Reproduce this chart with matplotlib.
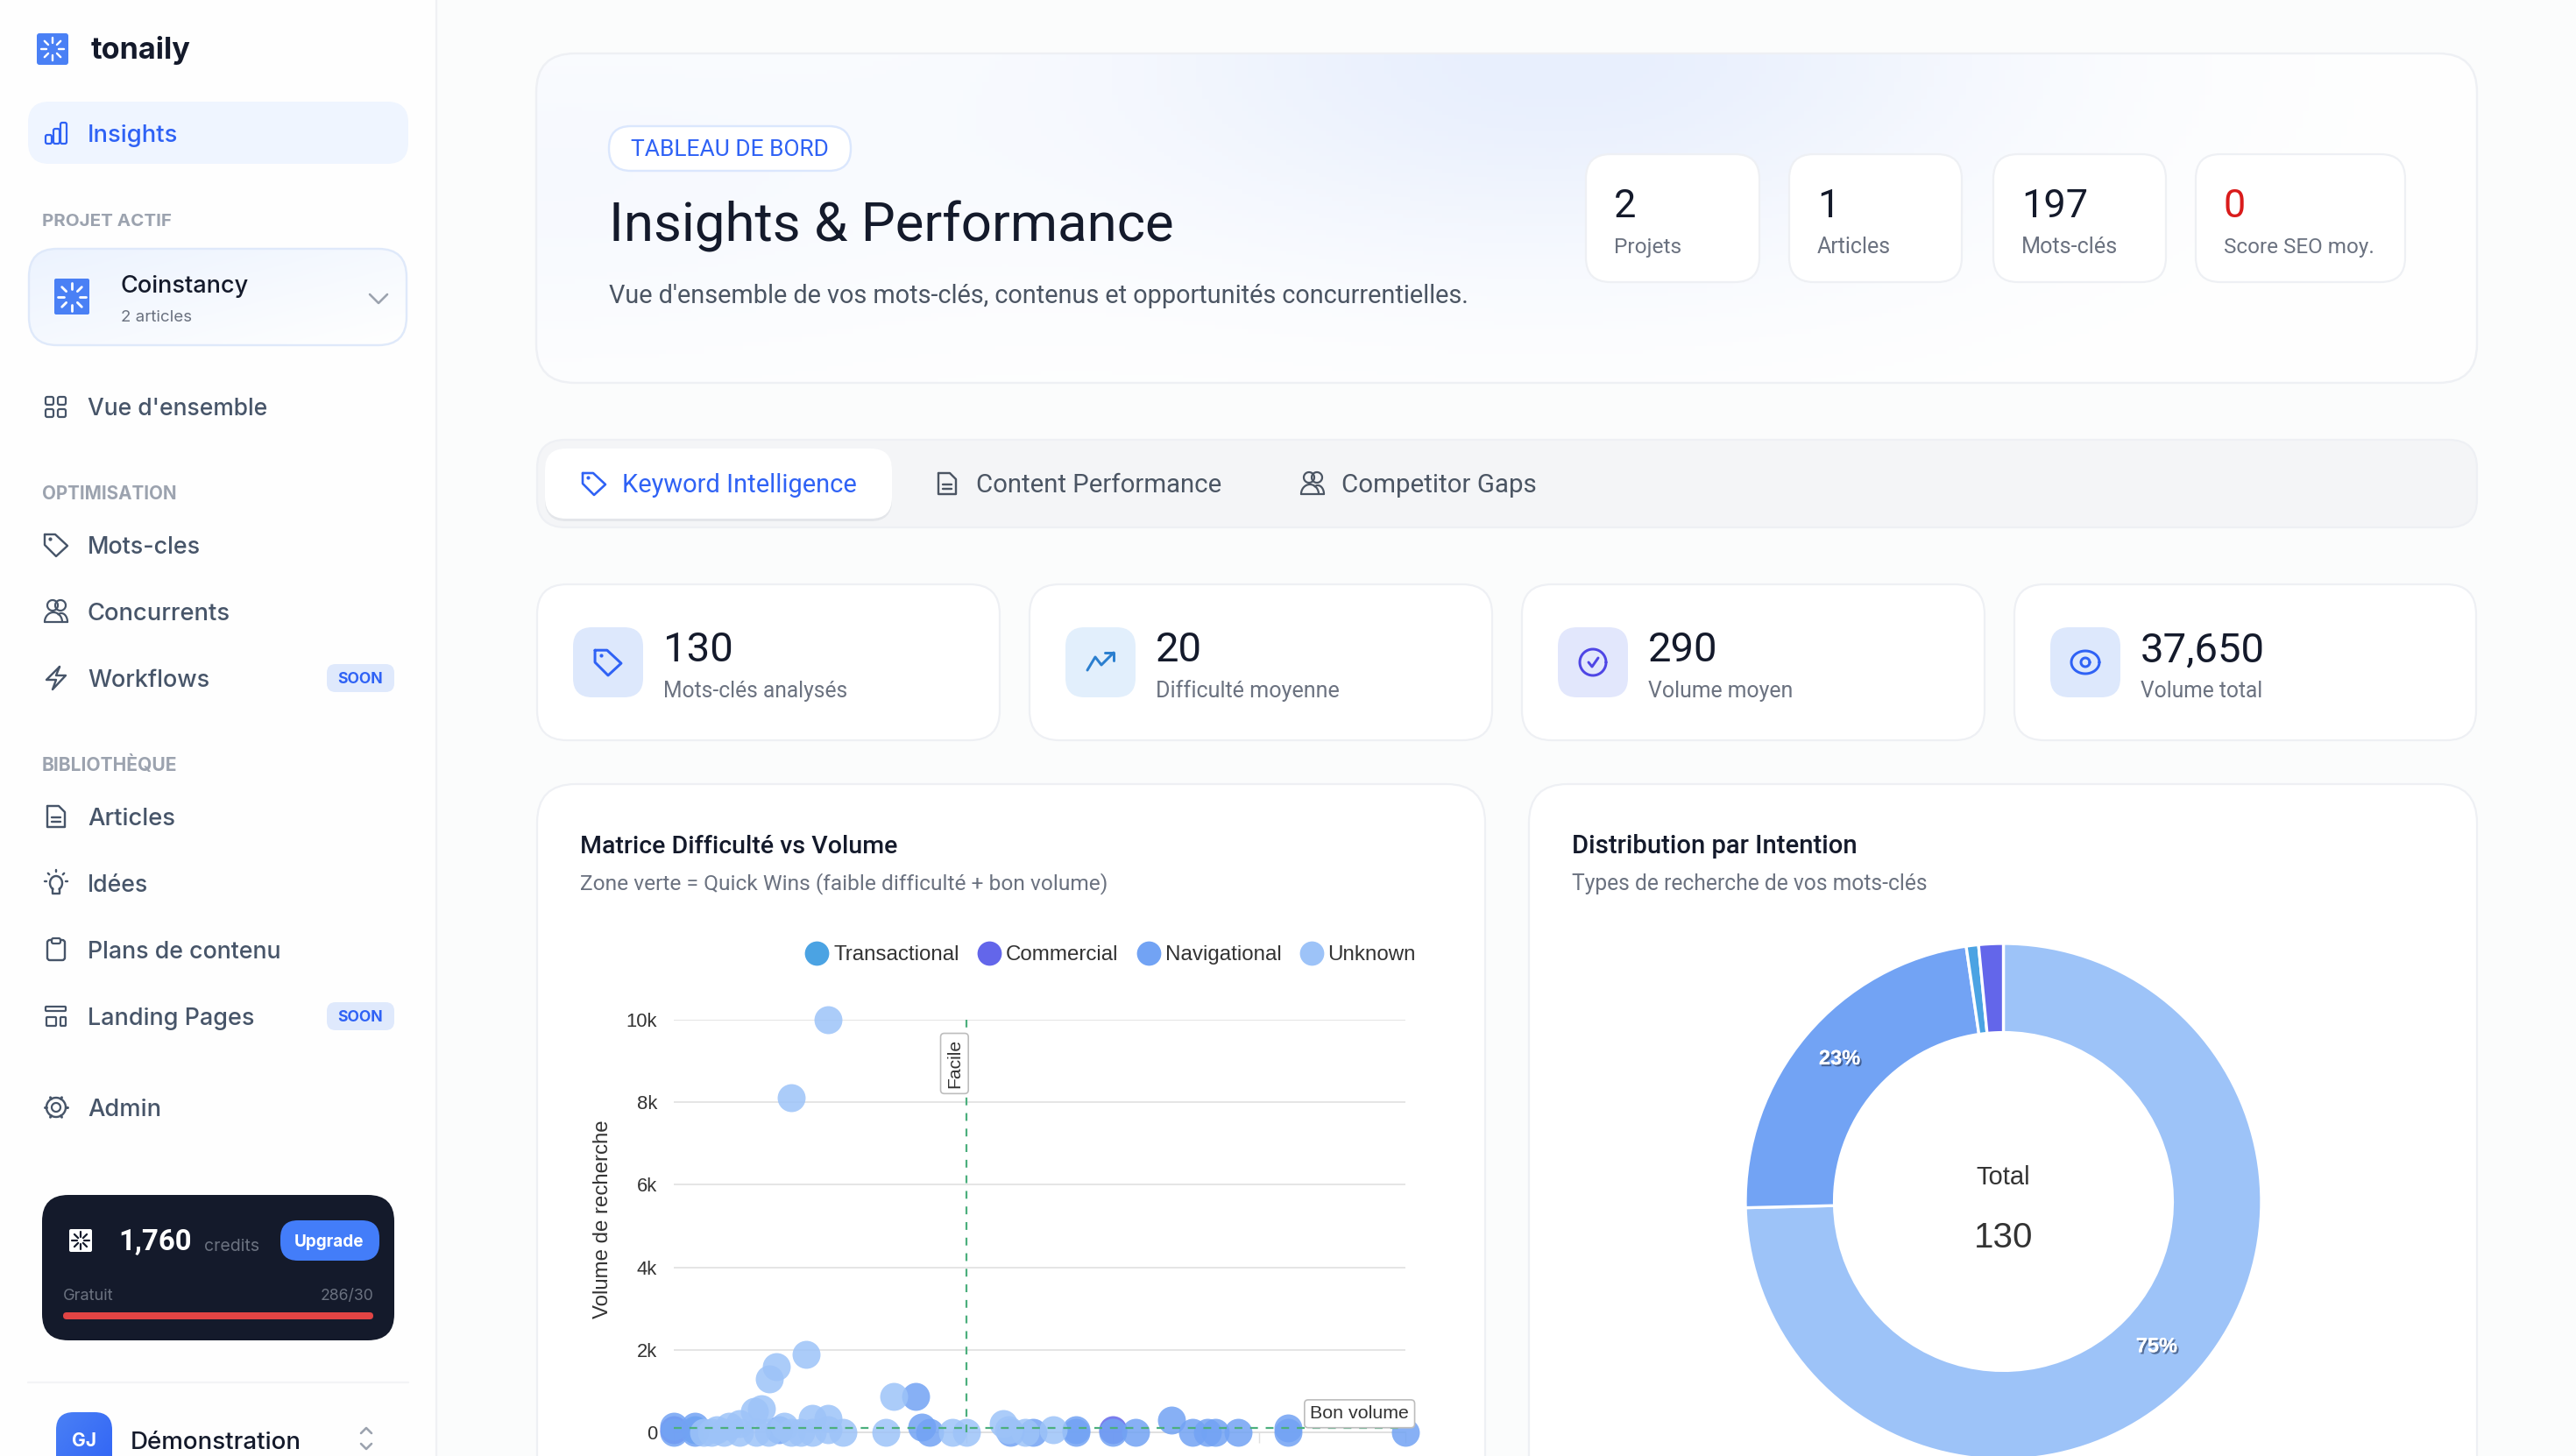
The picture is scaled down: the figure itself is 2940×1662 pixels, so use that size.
import numpy as np
import matplotlib
matplotlib.use("Agg")
import matplotlib.pyplot as plt
import matplotlib.patheffects as pe
from matplotlib.colors import to_rgb
from matplotlib.lines import Line2D
from matplotlib.patches import FancyBboxPatch

W, H = 2940, 1662

# chart data
unknown_diff = [15.8, 12, 13.5, 10.5, 9.75, 8.9, 8.25, 6.7, 5.6, 4.4, 3, 3.8, 5.1, 6.7, 8.4, 9.7, 11.3, 12, 13, 14.15, 14.15, 15.8, 15.8, 17.3, 21.7, 22.5, 28.5, 30, 33.75, 34.3, 36, 38.9]
unknown_vol = [10000, 8100, 1900, 1600, 1300, 570, 500, 220, 140, 60, 0, 0, 0, 0, 0, 0, 140, 0, 0, 350, 0, 350, 60, 0, 0, 860, 0, 0, 220, 60, 0, 60]
nav_diff = [0, 0, 2.1, 2.1, 10.7, 24.75, 25.4, 26.2, 34.5, 36.8, 41.2, 41.2, 45, 47.3, 51, 53.2, 54.7, 55.5, 57.8, 63, 63, 75]
nav_vol = [140, 0, 140, 0, 60, 860, 120, 0, 0, 0, 60, 0, 0, 0, 300, 0, 0, 0, 0, 100, 0, 0]
comm_diff = [45, 0]
comm_vol = [60, 60]
trans_diff = [2.1]
trans_vol = [60]

intent_labels = ["Unknown", "Navigational", "Transactional", "Commercial"]
intent_counts = [97, 30, 1, 2]
y_ticks = [0, 2000, 4000, 6000, 8000, 10000]
y_tick_labels = ["0", "2k", "4k", "6k", "8k", "10k"]
x_ticks = [0, 15, 30, 45, 60, 75]

# sidebar / cards text
nav_items = [("Vue d'ensemble", 474, 205), ("Mots-cles", 632, 129), ("Concurrents", 708, 163), ("Workflows", 784, 139),
             ("Articles", 942, 100), ("Idées", 1018, 69), ("Plans de contenu", 1094, 221), ("Landing Pages", 1170, 190), ("Admin", 1274, 84)]
section_items = [("PROJET ACTIF", 258, 148), ("OPTIMISATION", 570, 154), ("BIBLIOTHÈQUE", 880, 155)]
mini_stats = [("2", "Projets", 1810, 2008, 77), ("1", "Articles", 2042, 2239, 84), ("197", "Mots-clés", 2275, 2472, 110), ("0", "Score SEO moy.", 2506, 2745, 172)]
big_stats = [("130", "Mots-clés analysés", 613, 1141, 210), ("20", "Difficulté moyenne", 1175, 1703, 209),
             ("290", "Volume moyen", 1737, 2265, 165), ("37,650", "Volume total", 2299, 2826, 139)]
big_icon_bg = ["#DDE8FC", "#E2EFFC", "#E2E7FC", "#DDE8FC"]

C_UNK, C_NAV, C_TRANS, C_COMM = "#9DC3F8", "#72A3F4", "#4BA3E3", "#6366EA"
BLUE = "#2F62F5"
DARK = "#141A2B"
SLATE = "#475569"
GREY = "#6B7280"
BORDER = "#EEF0F4"
GREEN = "#4CAF7D"
CHART_TXT = "#333333"

plt.rcParams["font.family"] = ["Inter", "DejaVu Sans"]
MAIN_FONT = ["Roboto", "DejaVu Sans"]
CHART_FONT = ["Liberation Sans", "DejaVu Sans"]

fig = plt.figure(figsize=(W / 100, H / 100), dpi=100, facecolor="#FBFCFC")
ui = fig.add_axes([0, 0, 1, 1], zorder=0)
ui.set_xlim(0, W)
ui.set_ylim(H, 0)
ui.axis("off")
renderer = fig.canvas.get_renderer()


def txt(x, y, s, width=None, color=DARK, weight="normal", ha="left", size=20, **kw):
    t = ui.text(x, y, s, color=color, weight=weight, ha=ha, va="baseline", fontsize=size, **kw)
    if width:
        t.set_fontsize(size * width / t.get_window_extent(renderer).width)
    return t


def box(x0, y0, x1, y1, r, fc="white", ec="none", lw=0, z=1):
    p = FancyBboxPatch((x0, y0), x1 - x0, y1 - y0, boxstyle=f"round,pad=0,rounding_size={r}",
                       fc=fc, ec=ec, lw=lw * 0.72, zorder=z)
    ui.add_patch(p)
    return p


def grad(x0, y0, x1, y1, r, c0, c1, z=1):
    p = box(x0, y0, x1, y1, r, fc="none", z=z)
    yy, xx = np.mgrid[0:1:60j, 0:1:120j]
    t = ((xx + yy) / 2)[..., None]
    im = ui.imshow(np.array(to_rgb(c0)) * (1 - t) + np.array(to_rgb(c1)) * t, extent=(x0, x1, y1, y0), aspect="auto", zorder=z)
    im.set_clip_path(p)
    ui.set_xlim(0, W)
    ui.set_ylim(H, 0)


def ln(xs, ys, color=SLATE, lw=2.4, z=3):
    ui.plot(xs, ys, color=color, lw=lw * 0.72, solid_capstyle="round", solid_joinstyle="round", zorder=z)


def arc(cx, cy, rx, ry=None, t0=0, t1=360, color=SLATE, lw=2.4, z=3):
    t = np.radians(np.linspace(t0, t1, 50))
    ry = rx if ry is None else ry
    ln(cx + rx * np.cos(t), cy + ry * np.sin(t), color, lw, z)


def spark(cx, cy, r0, r1, color, lw):
    for a in np.radians(np.arange(0, 360, 45)):
        ln([cx + r0 * np.cos(a), cx + r1 * np.cos(a)], [cy + r0 * np.sin(a), cy + r1 * np.sin(a)], color, lw, 4)


def tag(cx, cy, k=1.0, color=SLATE, lw=2.4):
    xs = np.array([-13, -1, 13, 0, -13, -13]) * k
    ys = np.array([-12, -12, 1, 13, 0, -12]) * k
    ln(cx + xs, cy + ys, color, lw)
    ui.plot([cx - 7 * k], [cy - 7 * k], "o", ms=2, color=color, zorder=3)


def users(cx, cy, color=SLATE, lw=2.2):
    arc(cx - 4, cy - 7, 6, color=color, lw=lw)
    arc(cx + 5, cy - 7, 6, color=color, lw=lw)
    arc(cx - 3, cy + 12, 10, 11, 180, 360, color, lw)
    arc(cx + 6, cy + 12, 7, 10, 240, 360, color, lw)
    ln([cx - 13, cx + 13], [cy + 12, cy + 12], color, lw)


def doc(cx, cy, color=SLATE, lw=2.4):
    ln(cx + np.array([-10, 3, 10, 10, -10, -10]), cy + np.array([-12, -12, -5, 12, 12, -12]), color, lw)
    ln([cx - 5, cx + 5], [cy + 1, cy + 1], color, lw)
    ln([cx - 5, cx + 5], [cy + 6, cy + 6], color, lw)


# backgrounds
ui.add_patch(plt.Rectangle((0, 0), 498, H, fc="#FEFEFE", ec="none", zorder=0))
ui.plot([498.5, 498.5], [0, H], color="#F0F1F4", lw=1.6, zorder=0)

# sidebar top
box(42, 38, 78, 74, 3, fc="#4A80F5")
spark(60, 56, 7, 13, "white", 2.4)
txt(104, 67, "tonaily", 114, weight="bold")
box(32, 116, 466, 187, 24, fc="#EFF5FF")
for bx0, by0 in [(52, 154), (61, 147), (69, 140)]:
    box(bx0, by0, bx0 + 7, 164, 2, fc="none", ec=BLUE, lw=2.2, z=3)
txt(100, 162, "Insights", 103, color=BLUE, weight="medium")
for s, y, w in section_items:
    txt(48, y, s, w, color="#9CA3AF", weight="bold")

grad(33, 284, 464, 394, 32, "#ECF3FE", "#FFFFFF")
box(33, 284, 464, 394, 32, fc="none", ec="#DFE9FA", lw=2.4, z=2)
box(62, 318, 102, 359, 2, fc="#4A80F5", z=3)
spark(82, 339, 9, 16, "white", 2.8)
txt(138, 334, "Coinstancy", 146, weight="medium")
txt(138, 367, "2 articles", 81, color=GREY)
ln([422, 432, 442], [336, 346, 336], "#9CA3AF", 2.6)

for s, y, w in nav_items:
    txt(100, y, s, w, color=SLATE, weight="medium")

# sidebar icons
for x0, y0 in [(52, 453), (66, 453), (52, 467), (66, 467)]:
    box(x0, y0, x0 + 9, y0 + 9, 2, fc="none", ec=SLATE, lw=2.2, z=3)
tag(64, 622)
users(64, 698)
ln(64 + np.array([4, -11, 0, -4, 11, 0, 4]), 774 + np.array([-13, 2, 2, 13, -3, -3, -13]))
doc(64, 932)
arc(64, 1008, 7, 8, 120, 420)
ln([60, 60, 68, 68], [1014, 1020, 1020, 1014])
for a in [-90, -45, -135, 0, 180]:
    r = np.radians(a)
    ln([64 + 11 * np.cos(r), 64 + 13 * np.cos(r)], [1006 + 11 * np.sin(r), 1006 + 13 * np.sin(r)])
box(54, 1073, 74, 1096, 3, fc="none", ec=SLATE, lw=2.4, z=3)
box(59, 1071, 69, 1077, 2, fc="#FEFEFE", ec=SLATE, lw=2.2, z=3)
box(52, 1149, 75, 1154, 1, fc="none", ec=SLATE, lw=2.2, z=3)
box(53, 1161, 64, 1171, 1, fc="none", ec=SLATE, lw=2.2, z=3)
box(69, 1161, 75, 1171, 1, fc="none", ec=SLATE, lw=2.2, z=3)
arc(64, 1264, 5, lw=2.2)
arc(64, 1264, 11, lw=2.4)
for a in np.radians(np.arange(0, 360, 60)):
    ln([64 + 11 * np.cos(a), 64 + 13 * np.cos(a)], [1264 + 11 * np.sin(a), 1264 + 13 * np.sin(a)], lw=3)

for y0 in [758, 1144]:
    box(373, y0, 450, y0 + 32, 10, fc="#DFE9FC")
    txt(411, y0 + 22, "SOON", 52, color=BLUE, weight="bold", ha="center", zorder=3)

# credit card
box(48, 1364, 450, 1530, 30, fc=DARK)
box(79, 1403, 105, 1429, 2, fc="white", z=3)
spark(92, 1416, 4, 10, DARK, 2.2)
txt(135, 1427, "1,760", 84, color="white", weight="bold", zorder=3, family=MAIN_FONT)
txt(233, 1428, "credits", 63, color=GREY, zorder=3)
box(320, 1393, 433, 1439, 20, fc="#437DF9", z=3)
txt(376, 1423, "Upgrade", 80, color="white", weight="bold", ha="center", zorder=4)
txt(72, 1484, "Gratuit", 58, color=GREY, zorder=3)
txt(426, 1484, "286/30", 61, color=GREY, ha="right", zorder=3)
box(72, 1498, 426, 1506, 4, fc="#E14444", z=3)
ln([32, 466], [1578, 1578], "#F3F4F6", 2.2)
grad(64, 1612, 128, 1690, 20, "#4A80F5", "#2F62F5")
txt(96, 1651, "GJ", 28, color="white", weight="bold", ha="center", zorder=3)
txt(149, 1654, "Démonstration", 195, weight="medium")
ln([412, 418, 424], [1636, 1630, 1636], "#9CA3AF", 2.6)
ln([412, 418, 424], [1648, 1654, 1648], "#9CA3AF", 2.6)

# hero card with soft blue glow
hero = box(612, 61, 2827, 437, 44, fc="none", z=1)
yy, xx = np.mgrid[61:437:80j, 612:2827:300j]
glow = np.exp(-((xx - 1780) / 520) ** 2 - ((yy - 60) / 240) ** 2) + 0.35 * np.exp(-((xx - 612) / 550) ** 2 - ((yy - 200) / 210) ** 2)
glow = np.clip(glow, 0, 1)[..., None]
im = ui.imshow(np.array(to_rgb("#FFFFFF")) * (1 - glow) + np.array(to_rgb("#E8EFFD")) * glow, extent=(612, 2827, 437, 61), aspect="auto", zorder=1)
im.set_clip_path(hero)
ui.set_xlim(0, W)
ui.set_ylim(H, 0)
box(612, 61, 2827, 437, 44, fc="none", ec=BORDER, lw=2.4, z=2)
box(695, 144, 971, 195, 25, fc="white", ec="#DBE7FD", lw=2.4, z=3)
txt(833, 178, "TABLEAU DE BORD", 226, color=BLUE, ha="center", zorder=4, family=MAIN_FONT)
txt(695, 276, "Insights & Performance", 643, zorder=4, family=MAIN_FONT)
txt(695, 346, "Vue d'ensemble de vos mots-clés, contenus et opportunités concurrentielles.", 980, color="#4B5563", zorder=4, family=MAIN_FONT)
for num, lab, x0, x1, lw_ in mini_stats:
    box(x0, 176, x1, 322, 28, fc="white", ec=BORDER, lw=2.2, z=3)
    txt(x0 + 32, 248, num, size=32.4, color="#D91B1B" if lab.startswith("Score") else DARK, zorder=4, family=MAIN_FONT)
    txt(x0 + 32, 289, lab, lw_, color=GREY, zorder=4, family=MAIN_FONT)

# tab bar
box(613, 502, 2827, 602, 32, fc="#F4F5F7", ec=BORDER, lw=2.2)
box(622, 514, 1018, 595, 24, fc="#E4E6EA", z=2)
box(622, 512, 1018, 592, 24, fc="white", z=2)
tag(678, 552, color=BLUE, lw=2.6)
txt(710, 562, "Keyword Intelligence", 266, color=BLUE, zorder=3, family=MAIN_FONT)
doc(1081, 552, "#4B5563")
txt(1114, 562, "Content Performance", 280, color="#4B5563", family=MAIN_FONT)
users(1498, 552, "#4B5563")
txt(1531, 562, "Competitor Gaps", 222, color="#4B5563", family=MAIN_FONT)

# stat cards
for (num, lab, x0, x1, lw_), bg in zip(big_stats, big_icon_bg):
    box(x0, 667, x1, 845, 34, fc="white", ec=BORDER, lw=2.2)
    box(x0 + 41, 716, x0 + 121, 796, 22, fc=bg, z=2)
    txt(x0 + 144, 755, num, size=34, zorder=3, family=MAIN_FONT)
    txt(x0 + 144, 796, lab, lw_, color=GREY, zorder=3, family=MAIN_FONT)
tag(694, 756, 1.15, BLUE, 3)
ln(1256 + np.array([-15, -6, 1, 15]), 756 + np.array([9, -6, 3, -11]), "#2B7FCF", 3)
ln(1256 + np.array([5, 15, 15]), 756 + np.array([-11, -11, -2]), "#2B7FCF", 3)
arc(1818, 756, 15, color="#4F46E5", lw=3)
ln(1818 + np.array([-5, -1, 6]), 756 + np.array([0, 5, -5]), "#4F46E5", 3)
arc(2380, 756, 16, 13, color=BLUE, lw=3)
arc(2380, 756, 5, color=BLUE, lw=3)

# chart cards
box(613, 895, 1695, 1720, 44, fc="white", ec=BORDER, lw=2.2)
box(1745, 895, 2827, 1720, 44, fc="white", ec=BORDER, lw=2.2)
txt(662, 974, "Matrice Difficulté vs Volume", 361, weight="medium", zorder=3, family=MAIN_FONT)
txt(662, 1015, "Zone verte = Quick Wins (faible difficulté + bon volume)", 600, color=GREY, zorder=3, family=MAIN_FONT)
txt(1794, 974, "Distribution par Intention", 326, weight="medium", zorder=3, family=MAIN_FONT)
txt(1794, 1016, "Types de recherche de vos mots-clés", 405, color=GREY, zorder=3, family=MAIN_FONT)

# scatter
ax = fig.add_axes([769.5 / W, 1 - 1635 / H, 834.5 / W, 471 / H], zorder=2)
ax.patch.set_visible(False)
ax.set_xlim(0, 75)
ax.set_ylim(0, 10000)
ax.scatter(trans_diff, trans_vol, s=529, color=C_TRANS, alpha=0.85, lw=0, clip_on=False, zorder=3)
ax.scatter(comm_diff, comm_vol, s=529, color=C_COMM, alpha=0.85, lw=0, clip_on=False, zorder=3)
ax.scatter(nav_diff, nav_vol, s=529, color=C_NAV, alpha=0.85, lw=0, clip_on=False, zorder=3)
ax.scatter(unknown_diff, unknown_vol, s=529, color=C_UNK, alpha=0.85, lw=0, clip_on=False, zorder=3)
ax.axvline(30, color=GREEN, lw=1.6, ls=(0, (4, 4)), zorder=4)
ax.axhline(100, color=GREEN, lw=1.6, ls=(0, (4, 4)), zorder=4)
ax.set_yticks(y_ticks, y_tick_labels, fontsize=15.8, color=CHART_TXT, family=CHART_FONT)
ax.set_xticks(x_ticks)
ax.tick_params(axis="y", length=0, pad=14)
ax.tick_params(axis="x", length=8.6, width=1, color="#E0E0E0", labelbottom=False)
ax.grid(axis="y", color="#E5E5E5", lw=1.44, zorder=1)
ax.set_axisbelow(True)
for side in ["top", "left", "right"]:
    ax.spines[side].set_visible(False)
ax.spines["bottom"].set_color("#E0E0E0")
ax.spines["bottom"].set_linewidth(1.44)
ax.set_ylabel("Volume de recherche", fontsize=17.3, color=CHART_TXT, family=CHART_FONT)
ax.yaxis.set_label_coords(-0.085, 0.516)
ax.text(29.6, 8940, "Facile", rotation=90, ha="right", va="center", fontsize=15.2, color=CHART_TXT, family=CHART_FONT,
        zorder=5, bbox=dict(boxstyle="round,pad=0.3,rounding_size=0.2", fc="white", ec="#BDBDBD", lw=1.2))
ax.text(70.3, 450, "Bon volume", ha="center", va="center", fontsize=15.4, color=CHART_TXT, family=CHART_FONT,
        zorder=5, bbox=dict(boxstyle="round,pad=0.3,rounding_size=0.2", fc="white", ec="#BDBDBD", lw=1.2))
handles = [Line2D([], [], marker="o", ls="none", ms=20, mew=0, color=c) for c in [C_TRANS, C_COMM, C_NAV, C_UNK]]
ax.legend(handles, ["Transactional", "Commercial", "Navigational", "Unknown"], loc="center right", ncols=4,
          bbox_to_anchor=(1616 / W, 1 - 1090 / H), bbox_transform=fig.transFigure, frameon=False, borderpad=0, borderaxespad=0,
          handlelength=1.0, handletextpad=0.28, columnspacing=0.92, labelcolor=CHART_TXT,
          prop={"family": CHART_FONT, "size": 17.4})

# donut
dx = fig.add_axes([1992 / W, 1 - 1666 / H, 589 / W, 589 / H], zorder=2)
wedges, _, autotexts = dx.pie(intent_counts, colors=[C_UNK, C_NAV, C_TRANS, C_COMM], startangle=90, counterclock=False, radius=1,
                              wedgeprops=dict(width=0.345, edgecolor="white", linewidth=2.4),
                              autopct=lambda p: f"{p:.0f}%" if p > 5 else "", pctdistance=0.83,
                              textprops=dict(color="white", weight="bold", fontsize=17, family=CHART_FONT))
for t in autotexts:
    t.set_y(t.get_position()[1] + 0.018)
    t.set_path_effects([pe.withSimplePatchShadow(offset=(1.5, -1.5), shadow_rgbFace="#223355", alpha=0.6), pe.Normal()])
dx.set_xlim(-1, 1)
dx.set_ylim(-1, 1)
dx.text(0, 0.094, "Total", ha="center", va="center", fontsize=21, color=CHART_TXT, family=CHART_FONT)
dx.text(0, -0.14, "130", ha="center", va="center", fontsize=29, color=CHART_TXT, family=CHART_FONT)

fig.savefig("out.png", dpi=100, facecolor=fig.get_facecolor())
